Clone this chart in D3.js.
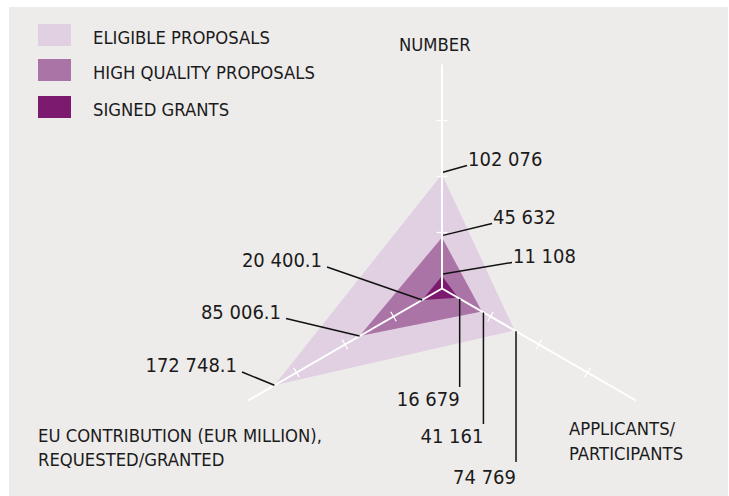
<!DOCTYPE html>
<html>
<head>
<meta charset="utf-8">
<script src="https://cdn.jsdelivr.net/npm/d3@7"></script>
<style>
  html, body { margin: 0; padding: 0; background: #ffffff; }
  svg { display: block; }
  text { font-family: "DejaVu Sans Condensed", "DejaVu Sans", sans-serif; font-stretch: condensed; fill: #1b1b1b; }
</style>
</head>
<body>
<svg id="chart" width="729" height="496"></svg>
<script>
// Radar axes, from the top clockwise
const axisNames = ["NUMBER", "APPLICANTS/PARTICIPANTS", "EU CONTRIBUTION"];
const axisTitles = [
  ["NUMBER"],
  ["APPLICANTS/", "PARTICIPANTS"],
  ["EU CONTRIBUTION (EUR MILLION),", "REQUESTED/GRANTED"]
];

// Series, drawn from the largest to the smallest
const seriesNames = ["ELIGIBLE PROPOSALS", "HIGH QUALITY PROPOSALS", "SIGNED GRANTS"];
const numberValues = [102076, 45632, 11108];
const applicantValues = [74769, 41161, 16679];
const contributionValues = [172748.1, 85006.1, 20400.1];
const seriesColors = ["#e0d0e1", "#ab74a6", "#7c1a6f"];

const tickValues = [50000, 100000, 150000];
const axisMax = 200000;

const svg = d3.select("#chart");
const cx = 442, cy = 288.5, radius = 224;

const locale = d3.formatLocale({ decimal: ".", thousands: " ", grouping: [3], currency: ["", ""] });
const fmtInt = locale.format(",d");
const fmtDec = locale.format(",.1f");

const r = d3.scaleLinear().domain([0, axisMax]).range([0, radius]);
// screen angles (radians): up, lower right, lower left
const angle = d3.scaleOrdinal().domain(axisNames).range([-90, 30, 150].map(a => a * Math.PI / 180));

function pt(axis, v) {
  const a = angle(axis);
  return [cx + r(v) * Math.cos(a), cy + r(v) * Math.sin(a)];
}

// panel background
svg.append("rect").attr("x", 9).attr("y", 7).attr("width", 719).attr("height", 489).attr("fill", "#eeeceb");

// series polygons
const seriesData = seriesNames.map((name, i) => ({
  name,
  color: seriesColors[i],
  values: [numberValues[i], applicantValues[i], contributionValues[i]]
}));

svg.append("g").selectAll("path").data(seriesData).join("path")
  .attr("d", d => d3.line()(axisNames.map((ax, k) => pt(ax, d.values[k]))) + "Z")
  .attr("fill", d => d.color);

// axes with ticks
const axG = svg.append("g");
axisNames.forEach(ax => {
  const a = angle(ax);
  const end = pt(ax, axisMax);
  axG.append("line").attr("x1", cx).attr("y1", cy).attr("x2", end[0]).attr("y2", end[1])
    .attr("stroke", "#ffffff").attr("stroke-width", 2);
  const px = -Math.sin(a), py = Math.cos(a);
  axG.selectAll(null).data(tickValues).join("line")
    .each(function (t) {
      const p = pt(ax, t);
      d3.select(this)
        .attr("x1", p[0] - px * 5.5).attr("y1", p[1] - py * 5.5)
        .attr("x2", p[0] + px * 5.5).attr("y2", p[1] + py * 5.5);
    })
    .attr("stroke", "#ffffff").attr("stroke-width", 1.3);
});

// value labels with leader lines
const lblG = svg.append("g");
const leader = (x1, y1, x2, y2) => lblG.append("line")
  .attr("x1", x1).attr("y1", y1).attr("x2", x2).attr("y2", y2)
  .attr("stroke", "#111111").attr("stroke-width", 1.5);

// NUMBER axis: labels to the upper right
const numberLabelPos = [[467, 165.5], [492, 223.5], [512, 262.5]];
numberValues.forEach((v, i) => {
  const p = pt(axisNames[0], v);
  const [lx, ly] = numberLabelPos[i];
  leader(p[0] + 1, p[1] - 2, lx, ly);
  lblG.append("text").attr("x", lx + 1).attr("y", ly).attr("font-size", 20).text(fmtInt(v));
});

// APPLICANTS axis: vertical leaders down to the labels
const applicantLineEnd = [462, 424, 387];
const applicantBaseline = [484, 443, 406];
applicantValues.forEach((v, i) => {
  const p = pt(axisNames[1], v);
  const x = p[0] + 1.5;
  leader(x, p[1] + 1, x, applicantLineEnd[i]);
  lblG.append("text").attr("x", x).attr("y", applicantBaseline[i])
    .attr("text-anchor", "end").attr("font-size", 20).text(fmtInt(v));
});

// EU CONTRIBUTION axis: labels to the upper left
const contribLabelPos = [[242, 372], [286, 318.5], [327, 267]];
contributionValues.forEach((v, i) => {
  const p = pt(axisNames[2], v);
  const [lx, ly] = contribLabelPos[i];
  leader(p[0], p[1], lx, ly);
  lblG.append("text").attr("x", lx - 5).attr("y", ly).attr("text-anchor", "end")
    .attr("font-size", 20).text(fmtDec(v));
});

// axis titles
const titlePos = [[399, 50.5], [569, 435], [38, 441.5]];
axisTitles.forEach((lines, i) => {
  const t = svg.append("text").attr("x", titlePos[i][0]).attr("y", titlePos[i][1]).attr("font-size", 18.3);
  lines.forEach((s, k) => t.append("tspan").attr("x", titlePos[i][0]).attr("dy", k === 0 ? 0 : 24.7).text(s));
});

// legend
const legend = svg.append("g");
const legendY = [24, 59, 96];
seriesData.forEach((d, i) => {
  legend.append("rect").attr("x", 38).attr("y", legendY[i]).attr("width", 33).attr("height", 22).attr("fill", d.color);
  legend.append("text").attr("x", 93).attr("y", legendY[i] + 19.5).attr("font-size", 18.3).text(d.name);
});
</script>
</body>
</html>
